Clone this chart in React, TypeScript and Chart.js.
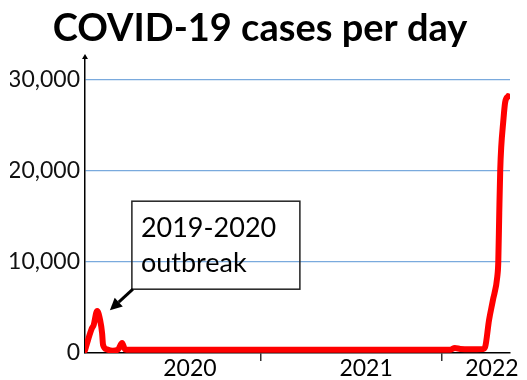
import React, { useEffect, useRef } from "react";
import { Chart, registerables } from "chart.js";

Chart.register(...registerables);

const titleText = "COVID-19 cases per day";

// x = days from the start of the plotted period, y = cases per day
const dayIndex = [0, 6, 14, 18, 23, 25, 31, 35, 37, 45, 57, 68, 76, 82, 92, 200, 400, 600, 748, 758, 769, 789, 816, 820, 828, 836, 845, 847, 849, 851, 853, 857, 861, 867];
const dailyCases = [300, 1400, 2700, 3100, 4400, 4600, 3600, 2200, 900, 400, 250, 400, 1100, 400, 350, 350, 350, 350, 350, 550, 450, 400, 450, 650, 3600, 5800, 8400, 10000, 15400, 20100, 22600, 25300, 27500, 28200];

const yearLabels = ["2020", "2021", "2022"];
const yearLabelDays = [215, 576, 834];
const yearBoundaryDays = [361, 732];
const xMaxDay = 871;

const yTickValues = [0, 10000, 20000, 30000];
const yMax = 32500;

const annotationLines = ["2019-2020", "outbreak"];
const annotationTargetDay = 51;
const annotationTargetCases = 4700;

const FONT = "Lato, 'Open Sans', sans-serif";

const annotationPlugin = {
  id: "outbreakNote",
  afterDraw(chart: any) {
    const { ctx, scales } = chart;
    const xs = scales.x;
    const ys = scales.y;
    const tipX = xs.getPixelForValue(annotationTargetDay);
    const tipY = ys.getPixelForValue(annotationTargetCases);
    const boxL = tipX + 22;
    const boxB = tipY - 21;
    const boxW = 168;
    const boxH = 88;
    const boxT = boxB - boxH;
    ctx.save();
    ctx.strokeStyle = "#222";
    ctx.lineWidth = 1.5;
    ctx.strokeRect(boxL, boxT, boxW, boxH);
    ctx.fillStyle = "#000";
    ctx.font = `27px ${FONT}`;
    ctx.textAlign = "left";
    ctx.textBaseline = "alphabetic";
    ctx.fillText(annotationLines[0], boxL + 9, boxT + 36);
    ctx.fillText(annotationLines[1], boxL + 9, boxT + 71);
    const sx = boxL + 1;
    const sy = boxB;
    const ang = Math.atan2(tipY - sy, tipX - sx);
    const headLen = 12;
    const bx = tipX - headLen * Math.cos(ang);
    const by = tipY - headLen * Math.sin(ang);
    ctx.strokeStyle = "#000";
    ctx.lineWidth = 3;
    ctx.beginPath();
    ctx.moveTo(sx, sy);
    ctx.lineTo(bx, by);
    ctx.stroke();
    ctx.fillStyle = "#000";
    ctx.beginPath();
    ctx.moveTo(tipX, tipY);
    ctx.lineTo(bx + 6 * Math.sin(ang), by - 6 * Math.cos(ang));
    ctx.lineTo(bx - 6 * Math.sin(ang), by + 6 * Math.cos(ang));
    ctx.closePath();
    ctx.fill();
    const ax = chart.chartArea.left;
    const ay = chart.chartArea.top;
    ctx.beginPath();
    ctx.moveTo(ax, ay - 3);
    ctx.lineTo(ax - 3, ay + 2);
    ctx.lineTo(ax + 3, ay + 2);
    ctx.closePath();
    ctx.fill();
    ctx.restore();
  },
};

export default function App() {
  const canvasRef = useRef<HTMLCanvasElement | null>(null);

  useEffect(() => {
    if (!canvasRef.current) return;
    const points = dayIndex.map((d, i) => ({ x: d, y: dailyCases[i] }));
    const chart = new Chart(canvasRef.current, {
      type: "line",
      data: {
        datasets: [
          {
            data: points,
            borderColor: "#FF0000",
            borderWidth: 6,
            pointRadius: 0,
            cubicInterpolationMode: "monotone",
            borderCapStyle: "round",
            borderJoinStyle: "round",
            fill: false,
          },
        ],
      },
      options: {
        responsive: false,
        animation: false,
        devicePixelRatio: 1,
        layout: { padding: { left: 10, right: 17, top: 0, bottom: 0 } },
        plugins: {
          legend: { display: false },
          tooltip: { enabled: false },
          title: {
            display: true,
            text: titleText,
            color: "#000",
            font: { family: FONT, size: 38, weight: "bold", lineHeight: 1 },
            padding: { top: 10, bottom: 9 },
          },
        },
        scales: {
          x: {
            type: "linear",
            min: 0,
            max: xMaxDay,
            afterBuildTicks(scale: any) {
              const vals = [...yearLabelDays, ...yearBoundaryDays].sort((a, b) => a - b);
              scale.ticks = vals.map((v) => ({ value: v }));
            },
            afterFit(scale: any) {
              scale.height = 27;
              scale.paddingLeft = 0;
              scale.paddingRight = 0;
            },
            grid: {
              display: true,
              drawOnChartArea: false,
              drawTicks: true,
              tickLength: 8,
              lineWidth: 1.5,
              color: (ctx: any) =>
                ctx.tick && yearBoundaryDays.includes(ctx.tick.value) ? "#333" : "rgba(0,0,0,0)",
            },
            border: { display: true, color: "#000", width: 1.5 },
            ticks: {
              autoSkip: false,
              maxRotation: 0,
              padding: -6,
              color: "#000",
              font: { family: FONT, size: 23 },
              callback: (v: any) => {
                const i = yearLabelDays.indexOf(Number(v));
                return i >= 0 ? yearLabels[i] : "";
              },
            },
          },
          y: {
            type: "linear",
            min: 0,
            max: yMax,
            afterBuildTicks(scale: any) {
              scale.ticks = yTickValues.map((v) => ({ value: v }));
            },
            afterFit(scale: any) {
              scale.width = 75;
              scale.paddingTop = 0;
              scale.paddingBottom = 0;
            },
            grid: {
              drawTicks: false,
              lineWidth: 1.2,
              color: (ctx: any) => (ctx.tick && ctx.tick.value === 0 ? "rgba(0,0,0,0)" : "#7AAADD"),
            },
            border: { display: true, color: "#000", width: 1.5 },
            ticks: {
              padding: 5,
              color: "#111",
              font: { family: FONT, size: 23 },
              callback: (v: any) => Number(v).toLocaleString("en-US"),
            },
          },
        },
      },
      plugins: [annotationPlugin],
    } as any);
    return () => chart.destroy();
  }, []);

  return (
    <div style={{ position: "absolute", left: 0, top: 0, width: 527, height: 380, background: "#fff" }}>
      <canvas ref={canvasRef} width={527} height={380} />
    </div>
  );
}
